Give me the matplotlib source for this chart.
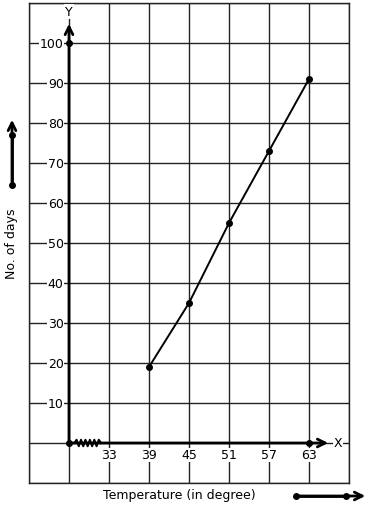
import numpy as np
import matplotlib.pyplot as plt

temps = [39, 45, 51, 57, 63]
days = [19, 35, 55, 73, 91]
x_ticks = [33, 39, 45, 51, 57, 63]
y_ticks = [10, 20, 30, 40, 50, 60, 70, 80, 90, 100]
x_origin = 27

fig = plt.figure(figsize=(3.71, 5.10), dpi=100)
ax = fig.add_axes([29 / 371, 26 / 510, 320 / 371, 480 / 510])
ax.set_xlim(21, 69)
ax.set_ylim(-10, 110)
ax.set_xticks(np.arange(21, 70, 6))
ax.set_yticks(np.arange(-10, 111, 10))
ax.grid(color='#222222', lw=1)
ax.tick_params(length=0, labelbottom=False, labelleft=False)
for s in ax.spines.values():
    s.set_color('#222222')
    s.set_linewidth(1)

box = dict(facecolor='white', edgecolor='none', pad=0.5)
for t in x_ticks:
    ax.text(t, -3, str(t), ha='center', va='center', fontsize=9, bbox=box, zorder=4)
for v in y_ticks:
    ax.text(26.2, v, str(v), ha='right', va='center', fontsize=9, bbox=box, zorder=4)

# axes with arrows
ax.annotate('', xy=(x_origin, 105.5), xytext=(x_origin, 0),
            arrowprops=dict(arrowstyle='->', lw=2, color='black', mutation_scale=14), zorder=5)
ax.annotate('', xy=(66.3, 0), xytext=(x_origin, 0),
            arrowprops=dict(arrowstyle='->', lw=2, color='black', mutation_scale=14), zorder=5)
ax.text(x_origin, 107.9, 'Y', ha='center', va='center', fontsize=9, bbox=box, zorder=4)
ax.text(67.4, 0.2, 'X', ha='center', va='center', fontsize=9, bbox=box, zorder=4)

# axis break
zx = np.linspace(27.8, 31.8, 13)
zy = np.array([0] + [0.8, -0.8] * 6)
zy[-1] = 0
ax.plot(zx, zy, color='black', lw=1.5, zorder=6)

ax.plot([x_origin, x_origin, 63], [0, 100, 0], 'o', color='black', ms=4, zorder=6)
ax.plot(temps, days, '-o', color='black', lw=1.4, ms=4, zorder=6)

fig.text(103 / 371, 1 - 496 / 510, 'Temperature (in degree)', ha='left', va='center', fontsize=9)
fig.text(12 / 371, 1 - 244 / 510, 'No. of days', ha='center', va='center', rotation=90, fontsize=9)

# direction arrows outside
fig.add_artist(plt.Line2D([12 / 371, 12 / 371], [1 - 186 / 510, 1 - 136 / 510],
                          marker='o', ms=4, color='black', lw=2))
ax.annotate('', xy=(12, 510 - 118), xytext=(12, 510 - 186), xycoords='figure pixels',
            textcoords='figure pixels',
            arrowprops=dict(arrowstyle='->', lw=2, color='black', mutation_scale=14), annotation_clip=False)
fig.add_artist(plt.Line2D([296 / 371, 346 / 371], [1 - 497 / 510, 1 - 497 / 510],
                          marker='o', ms=4, color='black', lw=2))
ax.annotate('', xy=(368, 510 - 497), xytext=(296, 510 - 497), xycoords='figure pixels',
            textcoords='figure pixels',
            arrowprops=dict(arrowstyle='->', lw=2, color='black', mutation_scale=14), annotation_clip=False)

fig.savefig('out.png', dpi=100)
